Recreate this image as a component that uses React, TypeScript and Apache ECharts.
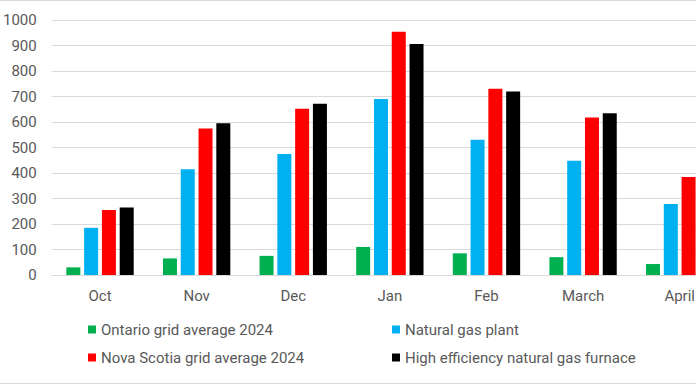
import React, { useEffect, useRef } from "react";
import * as echarts from "echarts";

const categories = ["Oct", "Nov", "Dec", "Jan", "Feb", "March", "April"];
const yTicks = [0, 100, 200, 300, 400, 500, 600, 700, 800, 900, 1000];
const ontario = [30, 65, 75, 110, 85, 70, 43];
const gasPlant = [185, 415, 475, 690, 530, 448, 278];
const novaScotia = [255, 575, 652, 954, 730, 618, 384];
const furnace = [265, 595, 672, 906, 720, 634, 395];
const seriesNames = [
  "Ontario grid average 2024",
  "Natural gas plant",
  "Nova Scotia grid average 2024",
  "High efficiency natural gas furnace",
];
const colors = ["#00B050", "#00B0F0", "#FF0000", "#000000"];

export default function App() {
  const ref = useRef<HTMLDivElement>(null);
  useEffect(() => {
    const chart = echarts.init(ref.current!, null, { renderer: "svg" });
    const font = "Roboto, 'Noto Sans', sans-serif";
    const legendPos = [
      { left: 83, top: 317 },
      { left: 387, top: 317 },
      { left: 83, top: 345 },
      { left: 387, top: 345 },
    ];
    const datas = [ontario, gasPlant, novaScotia, furnace];
    chart.setOption({
      animation: false,
      backgroundColor: "#ffffff",
      textStyle: { fontFamily: font },
      grid: { left: 47, width: 681, top: 20, height: 255, containLabel: false },
      legend: legendPos.map((p, i) => ({
        left: p.left,
        top: p.top,
        data: [seriesNames[i]],
        icon: "rect",
        itemWidth: 8,
        itemHeight: 8,
        textStyle: { color: "#595959", fontSize: 15, fontFamily: font },
        selectedMode: false,
      })),
      xAxis: {
        type: "category",
        data: categories,
        axisLine: { show: true, lineStyle: { color: "#d9d9d9" } },
        axisTick: { show: false },
        axisLabel: { color: "#595959", fontSize: 15, margin: 13, fontFamily: font },
      },
      yAxis: {
        type: "value",
        min: yTicks[0],
        max: yTicks[yTicks.length - 1],
        interval: 100,
        axisLine: { show: false },
        axisTick: { show: false },
        splitLine: { lineStyle: { color: "#d9d9d9", width: 1 } },
        axisLabel: {
          color: "#595959",
          fontSize: 15,
          margin: 15,
          fontFamily: font,
          formatter: (v: number) => String(v),
        },
      },
      graphic: [
        { type: "line", shape: { x1: 0, y1: 0.5, x2: 740, y2: 0.5 }, style: { stroke: "#d9d9d9", lineWidth: 1 } },
        { type: "line", shape: { x1: 0, y1: 383.5, x2: 740, y2: 383.5 }, style: { stroke: "#d9d9d9", lineWidth: 1 } },
      ],
      series: datas.map((d, i) => ({
        name: seriesNames[i],
        type: "bar",
        data: d,
        barWidth: 14,
        barGap: "27%",
        itemStyle: { color: colors[i] },
      })),
    });
    return () => chart.dispose();
  }, []);
  return (
    <div style={{ width: 696, height: 385, position: "absolute", left: 0, top: 0, overflow: "hidden" }}>
      <div ref={ref} style={{ width: 740, height: 385 }} />
    </div>
  );
}
